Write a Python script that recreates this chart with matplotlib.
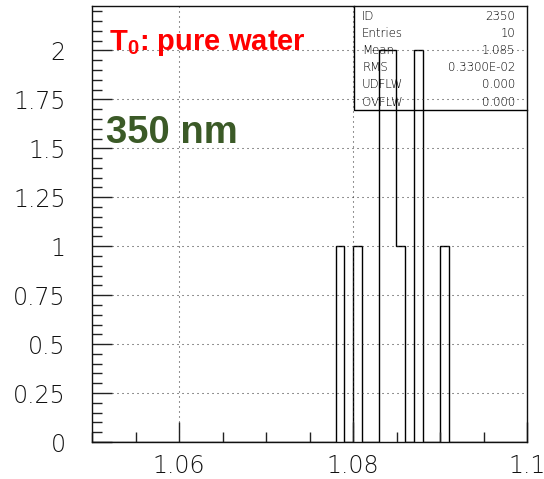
import numpy as np
import matplotlib
matplotlib.use("Agg")
import matplotlib.pyplot as plt
from matplotlib.ticker import MultipleLocator

# histogram 2350: transmission ratio, pure water, 350 nm
hist_id = 2350
x_lo, x_hi, n_bins = 1.05, 1.10, 50
filled_centers = [1.0785, 1.0805, 1.0835, 1.0845, 1.0855, 1.0875, 1.0905]
filled_counts = [1, 1, 2, 2, 1, 2, 1]
underflow = 0.0
overflow = 0.0

edges = np.linspace(x_lo, x_hi, n_bins + 1)
counts, _ = np.histogram(filled_centers, bins=edges, weights=filled_counts)

entries = int(sum(filled_counts))
w = np.array(filled_counts, float)
c = np.array(filled_centers)
mean = np.sum(w * c) / w.sum()
rms = np.sqrt(np.sum(w * (c - mean) ** 2) / w.sum())


def paw_exp(v):
    # PAW style: 0.3300E-02
    e = int(np.floor(np.log10(abs(v)))) + 1
    return "%.4fE%+03d" % (v / 10 ** e, e) if v else "0.000"


def short(v, p=None):
    return ("%.2f" % v).rstrip("0").rstrip(".") if v else "0"


plt.rcParams["mathtext.fontset"] = "custom"
plt.rcParams["mathtext.bf"] = "Liberation Sans:bold"
plt.rcParams["mathtext.rm"] = "Liberation Sans:bold"

W, H = 544, 479
fig = plt.figure(figsize=(W / 100, H / 100), dpi=100)
ax = fig.add_axes([92 / W, 1 - 442 / H, 435 / W, 436 / H])

ax.stairs(counts, edges, color="black", lw=1.0)

ax.set_xlim(x_lo, x_hi)
ax.set_ylim(0, 2.227)

ax.xaxis.set_major_locator(MultipleLocator(0.02))
ax.xaxis.set_minor_locator(MultipleLocator(0.005))
ax.yaxis.set_major_locator(MultipleLocator(0.25))
ax.yaxis.set_minor_locator(MultipleLocator(0.05))
ax.xaxis.set_major_formatter(short)
ax.yaxis.set_major_formatter(short)

ax.tick_params(which="both", direction="in", top=False, right=False,
               color="#222222", width=1.0)
ax.tick_params(which="major", length=14.5)
ax.tick_params(which="minor", length=7.5)
ax.tick_params(axis="x", which="major", pad=8.5, labelsize=17, labelcolor="#111111")
ax.tick_params(axis="y", which="major", pad=19, labelsize=17, labelcolor="#111111")
for lab in ax.get_xticklabels() + ax.get_yticklabels():
    lab.set_fontweight(200)

ax.grid(True, which="major", color="#333333", lw=0.75, linestyle=(0, (1, 3.8)))
for s in ax.spines.values():
    s.set_linewidth(1.0)
    s.set_color("#111111")

# statistics box
ax.plot([0.602, 0.602, 1.0], [1.0, 0.761, 0.761], transform=ax.transAxes,
        color="black", lw=1.0, clip_on=False)
stats = [("ID", str(hist_id)),
         ("Entries", str(entries)),
         ("Mean", "%.3f" % mean),
         ("RMS", paw_exp(rms)),
         ("UDFLW", "%.3f" % underflow),
         ("OVFLW", "%.3f" % overflow)]
for i, (k, v) in enumerate(stats):
    yc = 1 - (15.5 + 17.2 * i) / H
    fig.text(362 / W, yc, k, fontsize=8.5, va="center", ha="left",
             color="black", fontweight=200)
    fig.text(515 / W, yc, v, fontsize=8.5, va="center", ha="right",
             color="black", fontweight=200)

title_font = ["Liberation Sans", "DejaVu Sans"]
fig.text(109 / W, 1 - 50 / H, r"T$_{\mathbf{0}}$: pure water", color="#ff0000",
         fontsize=21, fontweight="bold", family=title_font, va="baseline")
fig.text(106 / W, 1 - 143 / H, "350 nm", color="#3b5a27",
         fontsize=27.5, fontweight="bold", family=title_font, va="baseline")

fig.savefig("out.png", dpi=100)
